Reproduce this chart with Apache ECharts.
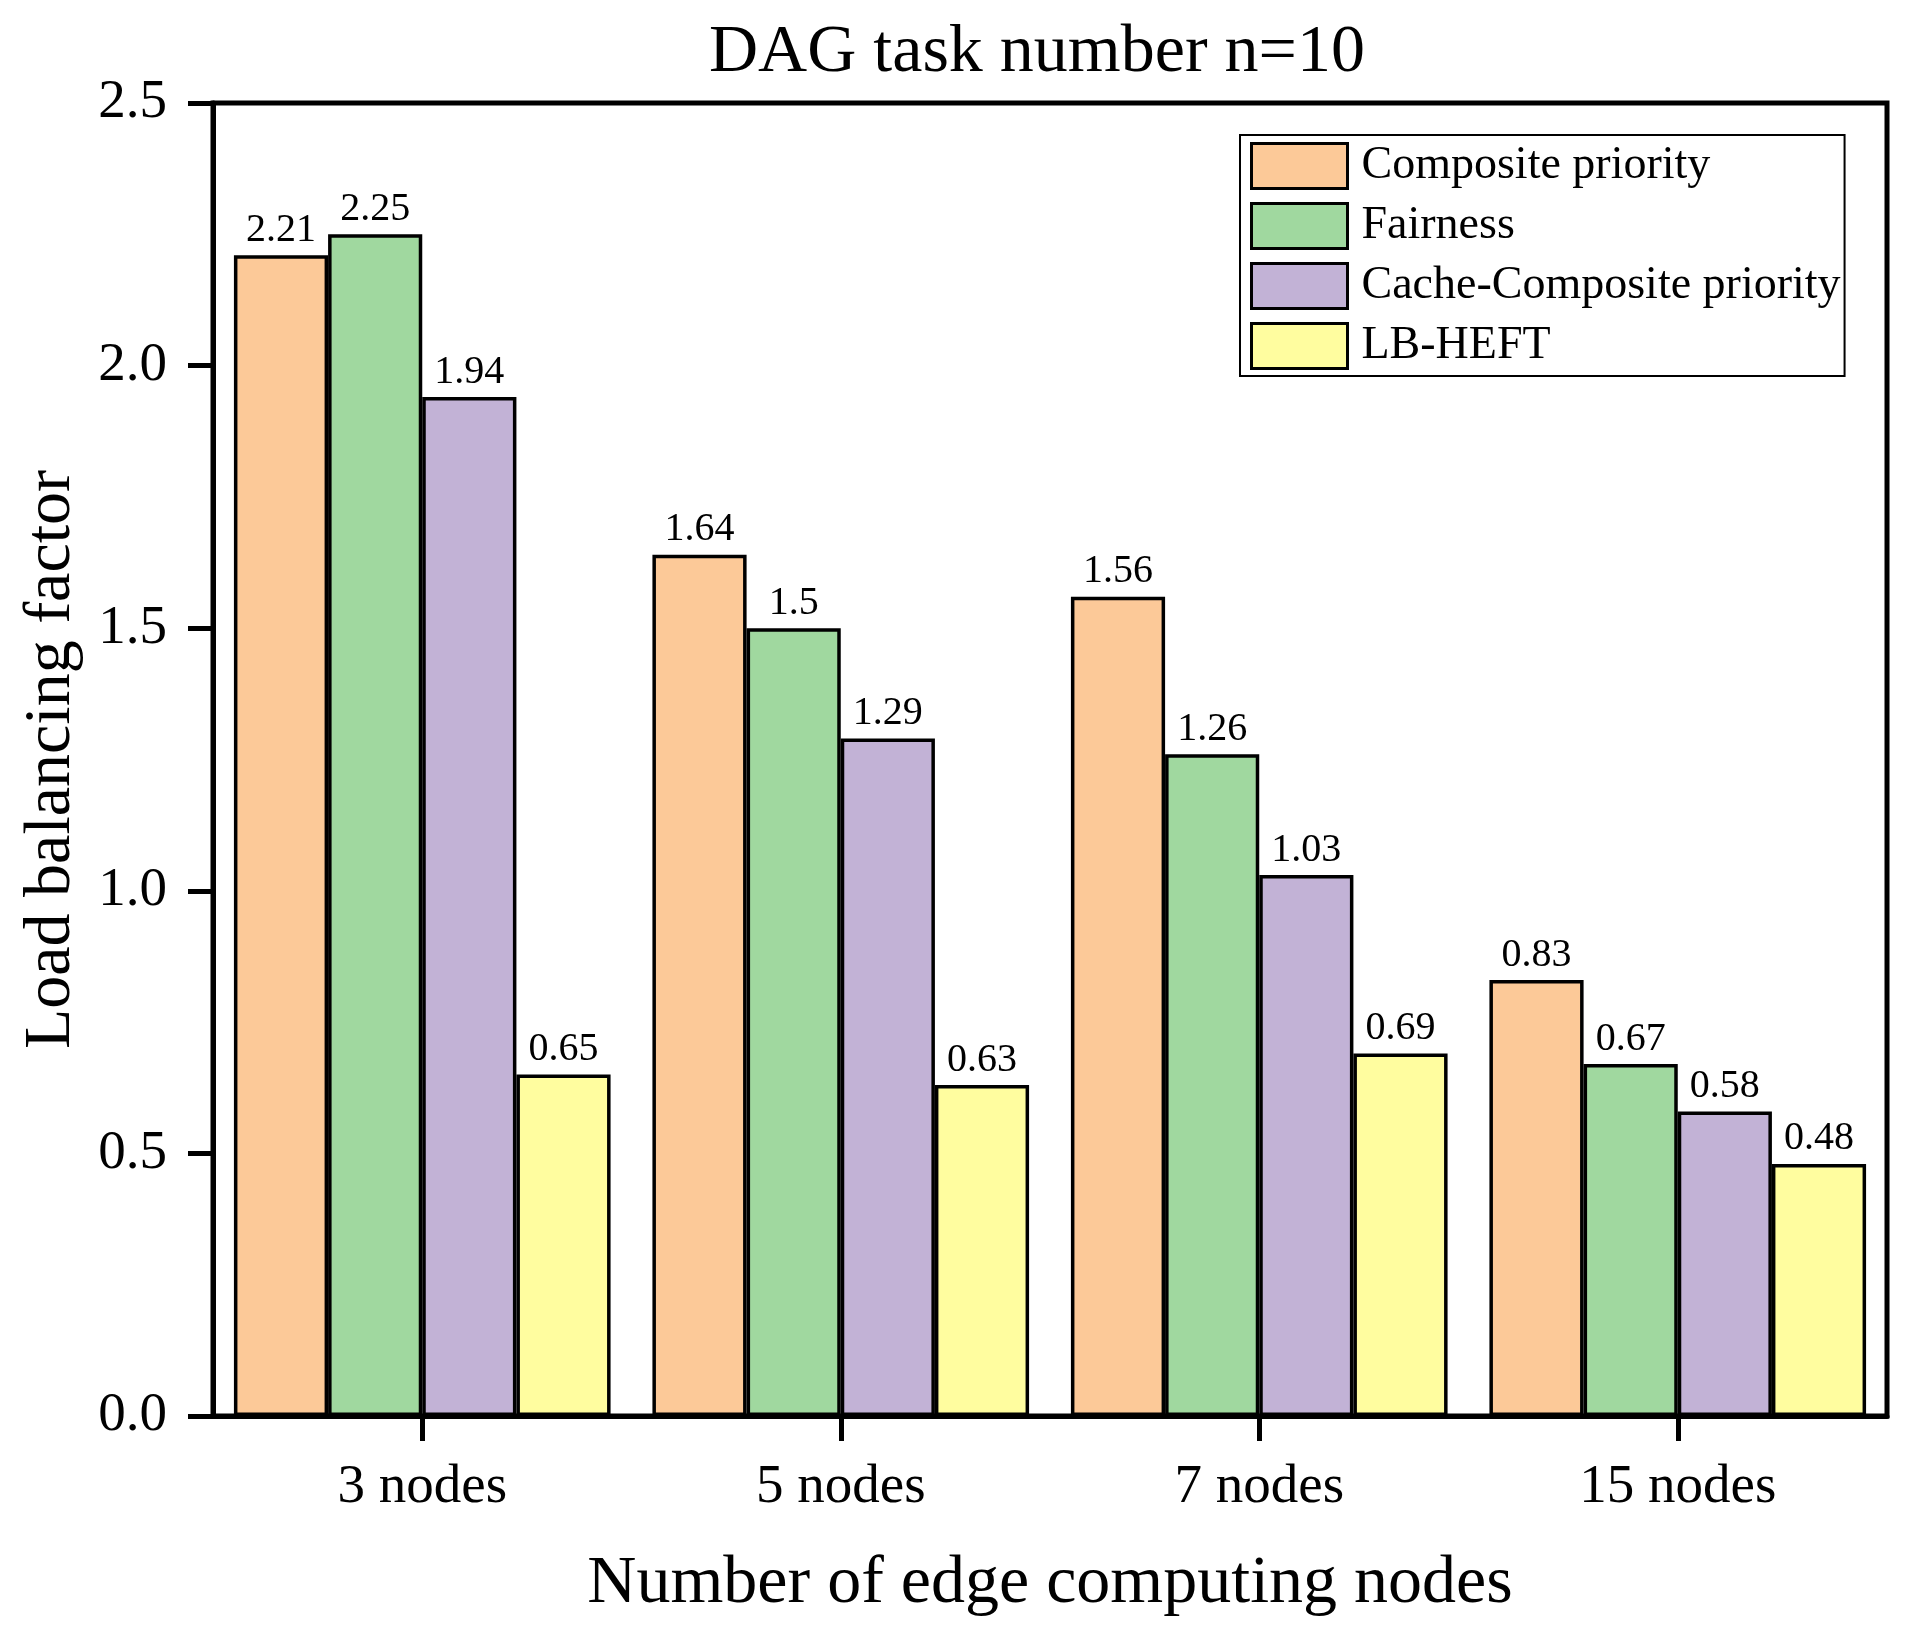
<!DOCTYPE html>
<html>
<head>
<meta charset="utf-8">
<script src="https://cdn.jsdelivr.net/npm/echarts@6/dist/echarts.min.js"></script>
<style>
html,body{margin:0;padding:0;background:#fff;}
#chart{width:1921px;height:1646px;}
</style>
</head>
<body>
<div id="chart"></div>
<script>
const categories = ['3 nodes', '5 nodes', '7 nodes', '15 nodes'];
const seriesNames = ['Composite priority', 'Fairness', 'Cache-Composite priority', 'LB-HEFT'];
const compositePriority = [2.21, 1.64, 1.56, 0.83];
const fairness = [2.25, 1.5, 1.26, 0.67];
const cacheComposite = [1.94, 1.29, 1.03, 0.58];
const lbHeft = [0.65, 0.63, 0.69, 0.48];
const colors = ['#FCC998', '#A0D89F', '#C2B2D6', '#FFFD9F'];

const FONT = 'Liberation Serif';
const seriesData = [compositePriority, fairness, cacheComposite, lbHeft];

const chart = echarts.init(document.getElementById('chart'), null, {renderer: 'canvas'});
chart.setOption({
  backgroundColor: '#fff',
  animation: false,
  title: {
    text: 'DAG task number n=10',
    left: 704,
    top: 14,
    textStyle: {fontFamily: FONT, fontSize: 68, fontWeight: 'normal', color: '#000'}
  },
  legend: {
    left: 1240,
    top: 135,
    orient: 'vertical',
    itemWidth: 96,
    itemHeight: 45,
    itemGap: 12,
    padding: [7, 4, 6, 10],
    borderColor: '#000',
    borderWidth: 2,
    icon: 'rect',
    itemStyle: {borderColor: '#000', borderWidth: 3},
    textStyle: {fontFamily: FONT, fontSize: 46, color: '#000', padding: [0, 0, 0, 9]},
    data: seriesNames
  },
  grid: {
    left: 213, right: 34, top: 103, bottom: 230,
    show: true, borderColor: '#000', borderWidth: 5, backgroundColor: 'transparent'
  },
  xAxis: {
    type: 'category',
    data: categories,
    name: 'Number of edge computing nodes',
    nameLocation: 'middle',
    nameGap: 134,
    nameTextStyle: {fontFamily: FONT, fontSize: 68, color: '#000'},
    axisLine: {show: true, lineStyle: {color: '#000', width: 5}},
    axisTick: {show: true, alignWithLabel: true, length: 25, lineStyle: {color: '#000', width: 5}},
    axisLabel: {fontFamily: FONT, fontSize: 55, color: '#000', margin: 44}
  },
  yAxis: {
    type: 'value',
    min: 0, max: 2.5, interval: 0.5,
    name: 'Load balancing factor',
    nameLocation: 'middle',
    nameGap: 128,
    nameTextStyle: {fontFamily: FONT, fontSize: 66, color: '#000'},
    splitLine: {show: false},
    axisLine: {show: true, lineStyle: {color: '#000', width: 5}},
    axisTick: {show: true, inside: false, length: 25, lineStyle: {color: '#000', width: 5}},
    axisLabel: {fontFamily: FONT, fontSize: 55, color: '#000', margin: 46,
      formatter: v => v.toFixed(1)}
  },
  series: seriesNames.map((name, i) => ({
    name: name,
    type: 'bar',
    data: seriesData[i],
    barGap: '0%',
    barCategoryGap: '10%',
    itemStyle: {color: colors[i], borderColor: '#000', borderWidth: 3.5},
    label: {show: true, position: 'top', distance: 5,
      fontFamily: FONT, fontSize: 40, color: '#000'}
  }))
});
</script>
</body>
</html>
